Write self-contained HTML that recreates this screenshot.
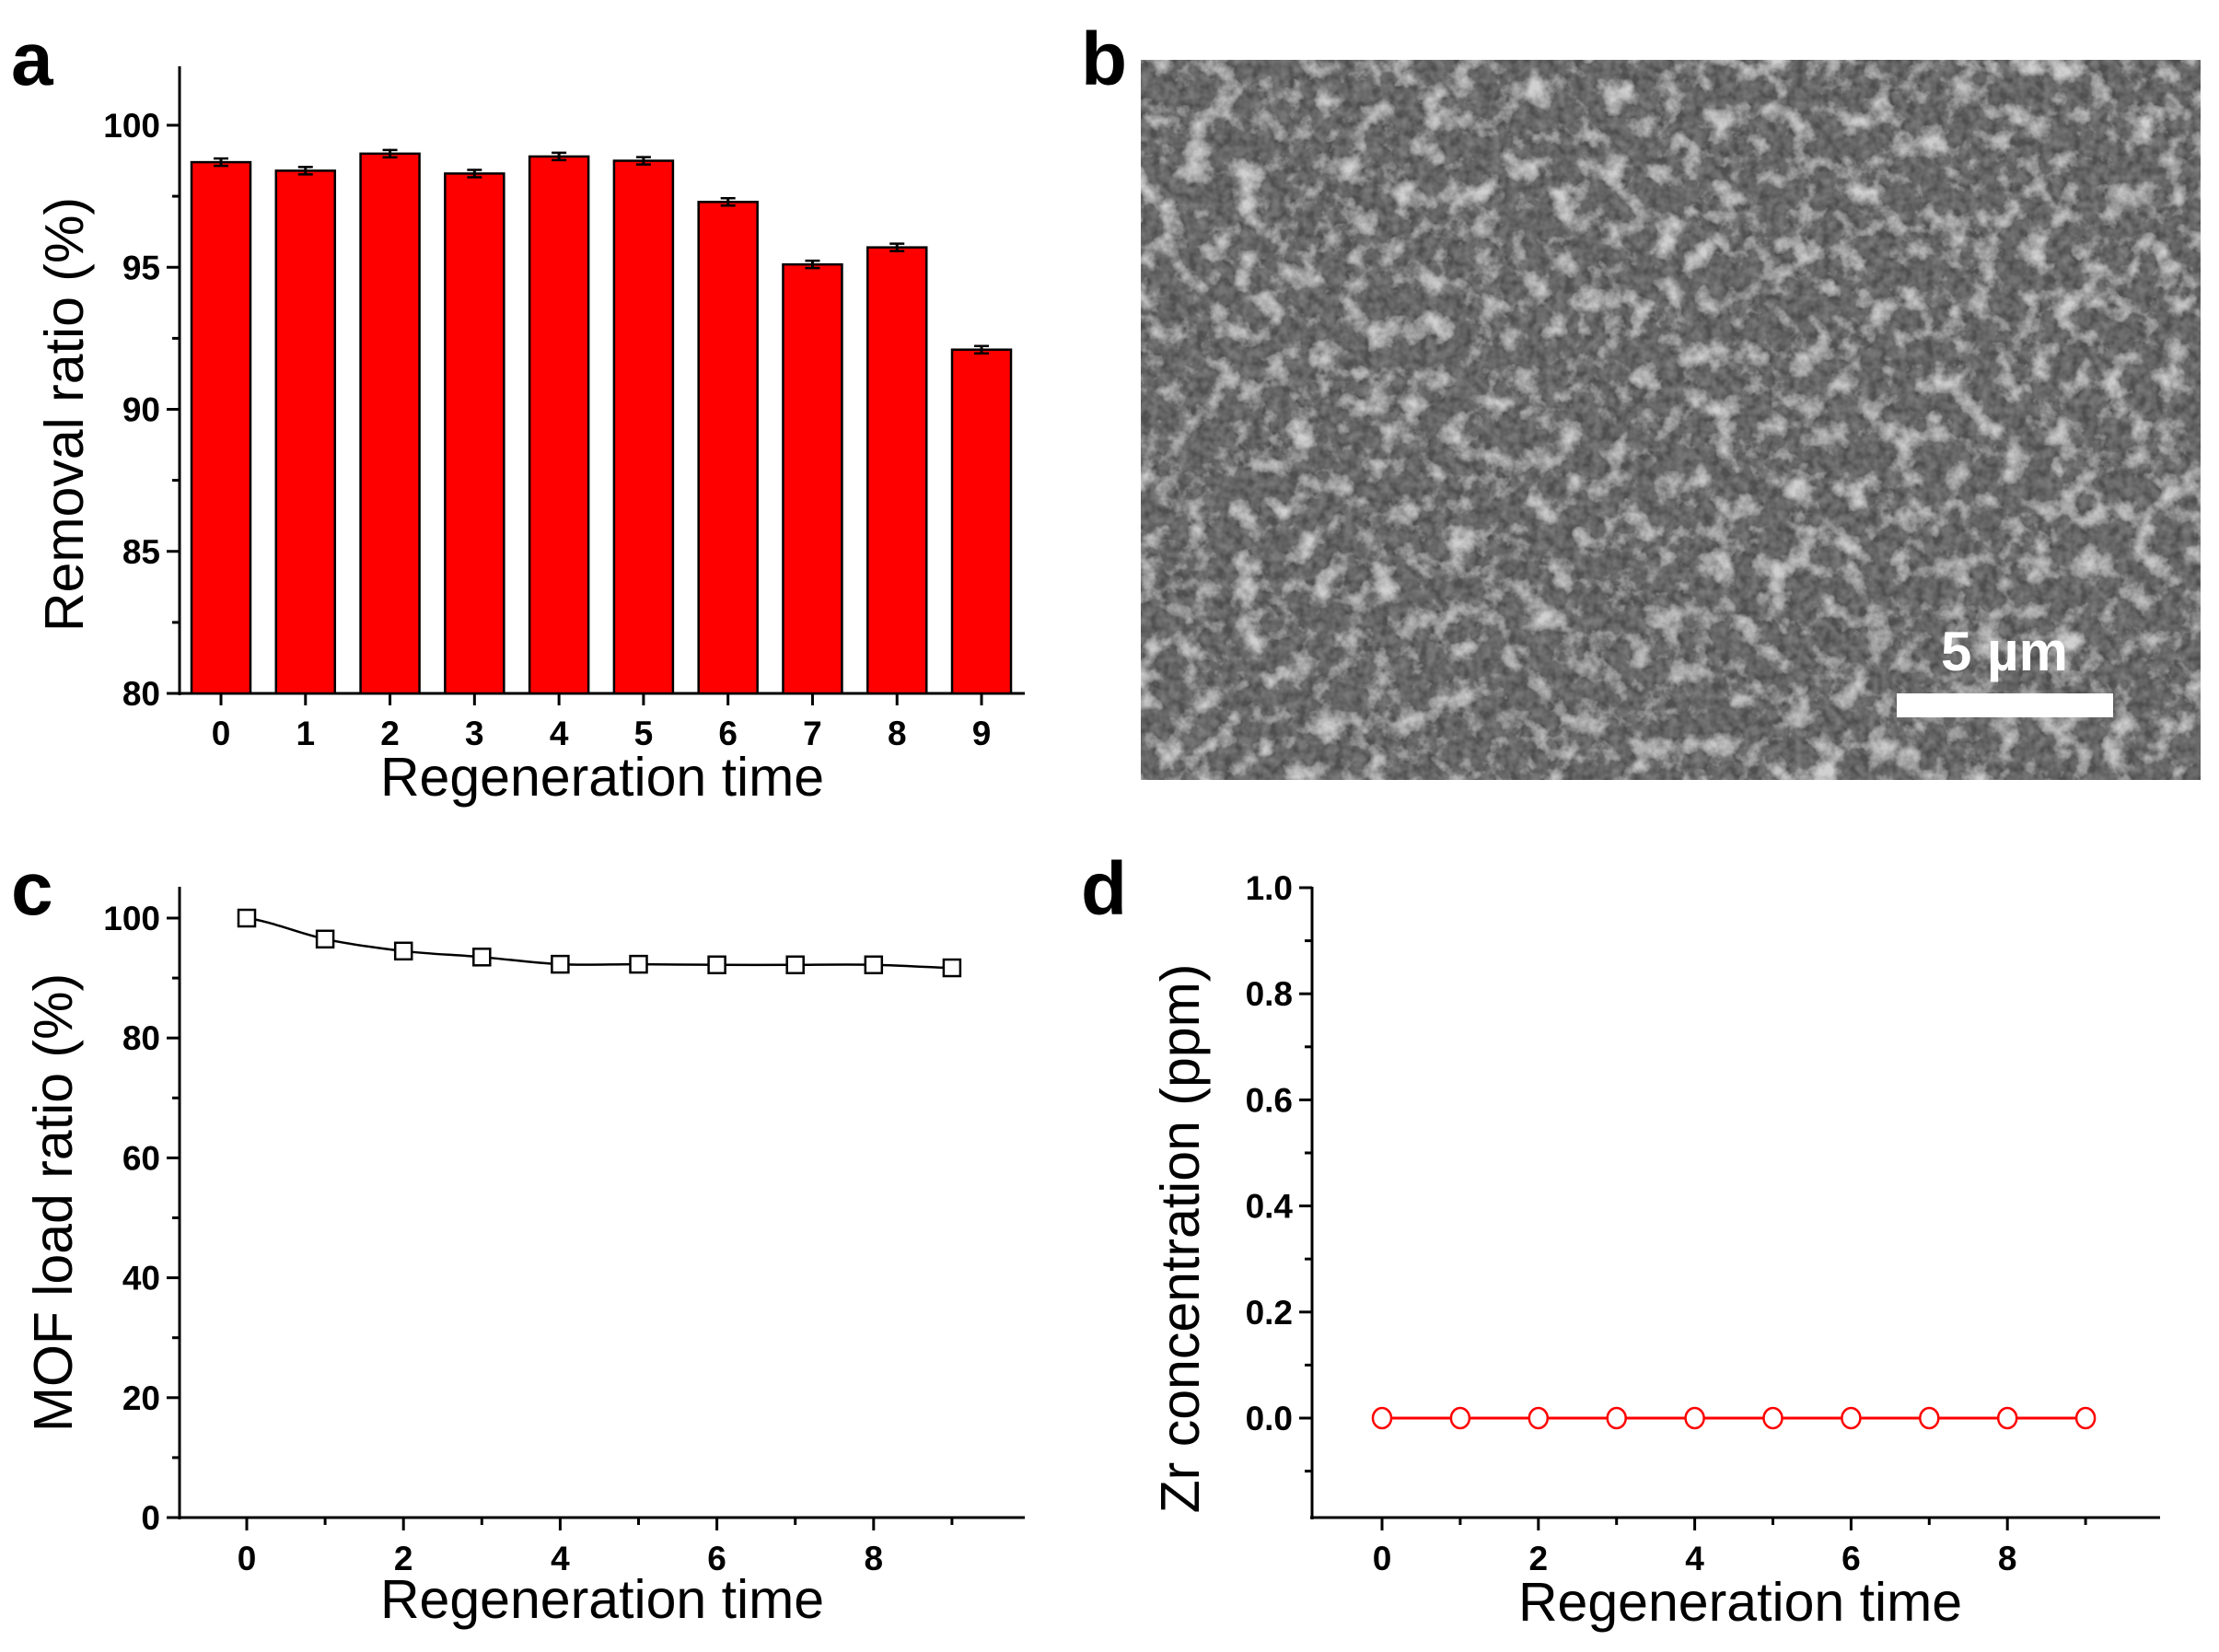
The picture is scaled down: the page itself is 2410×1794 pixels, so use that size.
<!DOCTYPE html>
<html><head><meta charset="utf-8"><style>
html,body{margin:0;padding:0;background:#fff}
svg{display:block}
text{font-family:"Liberation Sans",Arial,sans-serif}
.t{font-weight:bold;font-size:37px}
.l{font-size:59px}
.p{font-weight:bold;font-size:82px}
</style></head><body>
<svg id="s" width="2410" height="1794" viewBox="0 0 2410 1794" xmlns="http://www.w3.org/2000/svg">
<defs>
<filter id="sem" x="0" y="0" width="100%" height="100%">
<feTurbulence type="fractalNoise" baseFrequency="0.035" numOctaves="4" seed="7" result="n"/>
<feColorMatrix in="n" type="matrix" values="0 0 0 0 0  0 0 0 0 0  0 0 0 0 0  3.0 0 0 0 -1.5" result="a"/>
<feFlood flood-color="#d0d0d0" result="w"/>
<feComposite in="w" in2="a" operator="in" result="spots"/>
<feTurbulence type="fractalNoise" baseFrequency="0.1" numOctaves="2" seed="3" result="n2"/>
<feColorMatrix in="n2" type="matrix" values="0 0 0 0 0  0 0 0 0 0  0 0 0 0 0  1.2 0 0 0 -0.3" result="a2"/>
<feFlood flood-color="#8c8c8c" result="m"/>
<feComposite in="m" in2="a2" operator="in" result="mid"/>
<feFlood flood-color="#505050" result="bg"/>
<feMerge><feMergeNode in="bg"/><feMergeNode in="mid"/><feMergeNode in="spots"/></feMerge>
</filter>
</defs>
<g id="g"></g>
</svg>
<script>
var o='';
function L(x1,y1,x2,y2,c,w){o+='<line x1="'+x1+'" y1="'+y1+'" x2="'+x2+'" y2="'+y2+'" stroke="'+(c||'#000')+'" stroke-width="'+(w||3)+'"/>';}
function T(x,y,s,cl,a,extra){o+='<text x="'+x+'" y="'+y+'" class="'+cl+'" text-anchor="'+(a||'middle')+'" '+(extra||'')+'>'+s+'</text>';}
// panel a
o+='<text x="12" y="92" class="p">a</text>';
L(195,72,195,755,'#000',3);L(193,753,1113,753,'#000',3);
[80,85,90,95,100].forEach(function(v,k){var y=753-154.25*k;L(181,y,195,y);T(174,y+13,v,'t','end');});
[675.9,521.6,367.4,213.1].forEach(function(y){L(187,y,195,y);});
var va=[98.7,98.4,99.0,98.3,98.9,98.75,97.3,95.1,95.7,92.1];
va.forEach(function(v,i){var cx=240+91.78*i,y=753-(v-80)*30.85;
o+='<rect x="'+(cx-32)+'" y="'+y+'" width="64" height="'+(753-y)+'" fill="#ff0000" stroke="#000" stroke-width="2.5"/>';
L(cx-8,y-4,cx+8,y-4,'#000',2.5);L(cx,y-5,cx,y+4,'#000',3);L(cx-8,y+4,cx+8,y+4,'#000',2.5);
L(cx,753,cx,766);T(cx,809,i,'t');});
T(654,864,'Regeneration time','l');
T(0,0,'Removal ratio (%)','l','middle','transform="translate(90,450) rotate(-90)"');
// panel b
o+='<text x="1174" y="92" class="p">b</text>';
o+='<rect x="1239" y="65" width="1151" height="782" fill="#5e5e5e" filter="url(#sem)"/>';
o+='<rect x="2060" y="753" width="235" height="26" fill="#fff"/>';
o+='<text x="2177" y="728" font-size="60" font-weight="bold" fill="#fff" text-anchor="middle">5 µm</text>';
// panel c
o+='<text x="12" y="993" class="p">c</text>';
L(195,963,195,1650);L(193,1648,1113,1648);
for(var k=0;k<=5;k++){var y=1648-130.2*k;L(181,y,195,y);T(174,y+13,k*20,'t','end');}
for(var k=0;k<5;k++){var y=1648-65.1-130.2*k;L(187,y,195,y);}
for(var i=0;i<=9;i++){var x=268+85.1*i;L(x,1648,x,i%2?1656:1662);if(i%2==0)T(x,1705,i,'t');}
var vc=[100,96.5,94.5,93.5,92.3,92.3,92.2,92.2,92.2,91.7];
var pts=vc.map(function(v,i){return [268+85.1*i,1648-v*6.51];});
var d='M'+pts[0][0]+','+pts[0][1];
for(var i=1;i<pts.length;i++){var p0=pts[i-1],p1=pts[i];d+=' C'+(p0[0]+28)+','+(p0[1]+(p1[1]-(pts[i-2]||p0)[1])*0.17)+' '+(p1[0]-28)+','+(p1[1]-((pts[i+1]||p1)[1]-p0[1])*0.17)+' '+p1[0]+','+p1[1];}
o+='<path d="'+d+'" fill="none" stroke="#000" stroke-width="2.5"/>';
pts.forEach(function(p){o+='<rect x="'+(p[0]-9)+'" y="'+(p[1]-9)+'" width="18" height="18" fill="#fff" stroke="#000" stroke-width="2.5"/>';});
T(654,1757,'Regeneration time','l');
T(0,0,'MOF load ratio (%)','l','middle','transform="translate(78,1306) rotate(-90)"');
// panel d
o+='<text x="1174" y="993" class="p">d</text>';
L(1425,963,1425,1650);L(1423,1648,2346,1648);
for(var k=0;k<=5;k++){var y=1540-115.2*k;L(1411,y,1425,y);T(1404,y+13,(k*0.2).toFixed(1),'t','end');}
for(var k=0;k<5;k++){var y=1540-57.6-115.2*k;L(1417,y,1425,y);}
L(1417,1597.6,1425,1597.6);
for(var i=0;i<=9;i++){var x=1501+84.9*i;L(x,1648,x,i%2?1656:1662);if(i%2==0)T(x,1705,i,'t');}
L(1501,1540,2265,1540,'#ff0000',3);
for(var i=0;i<=9;i++){var x=1501+84.9*i;o+='<ellipse cx="'+x+'" cy="1540" rx="10" ry="11" fill="#fff" stroke="#ff0000" stroke-width="2.5"/>';}
T(1890,1760,'Regeneration time','l');
T(0,0,'Zr concentration (ppm)','l','middle','transform="translate(1302,1345) rotate(-90)"');
document.getElementById('g').innerHTML=o;
</script>
</body></html>
